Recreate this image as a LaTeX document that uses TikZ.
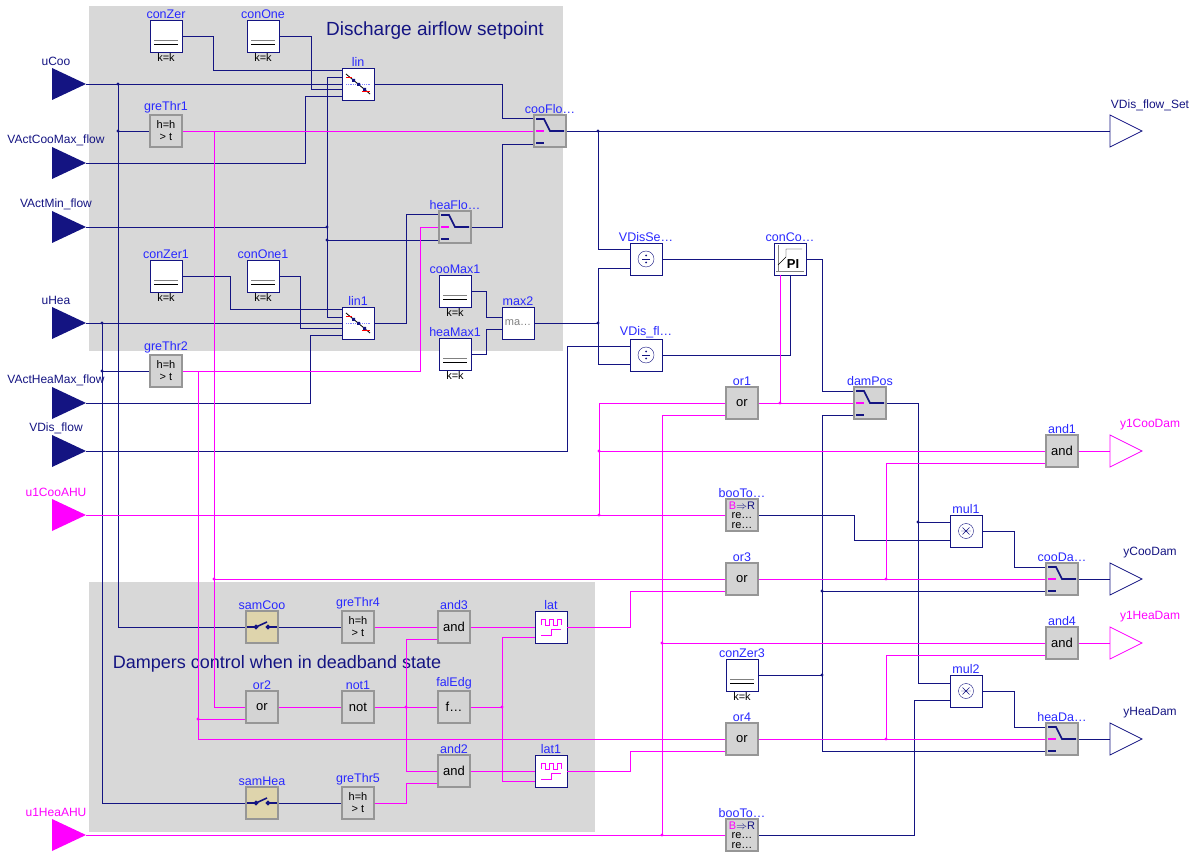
\documentclass[tikz,border=0pt]{standalone}
\usepackage{fontspec}
\setmainfont{Liberation Sans}
\usetikzlibrary{calc}
\definecolor{navyc}{RGB}{20,20,130}
\definecolor{pinkc}{RGB}{255,0,255}
\definecolor{lblc}{RGB}{40,40,255}
\definecolor{gbf}{RGB}{212,212,212}
\definecolor{gbe}{RGB}{150,150,150}
\definecolor{regc}{RGB}{216,216,216}
\definecolor{khaki}{RGB}{222,212,172}
\begin{document}
\begin{tikzpicture}[x=1pt,y=-1pt,
  lab/.style={text=lblc,font=\fontsize{12.5}{12.5}\selectfont,inner sep=0.5pt},
  base/.style={minimum width=32,minimum height=32,inner sep=0,font=\fontsize{13}{13}\selectfont,align=center},
  gb/.style={base,fill=gbf,draw=gbe,line width=1.6},
  kb/.style={base,fill=khaki,draw=gbe,line width=1.6},
  wb/.style={base,fill=white,draw=navyc,line width=0.8},
  nm/.style={label={[lab]above:#1}},
  kk/.style={label={[lab,text=black,font=\fontsize{11}{11}\selectfont]below:k=k}},
  w/.style={navyc,line width=0.8},
  p/.style={pinkc,line width=0.8},
  cicon/.style={path picture={\draw[gray] ([shift={(-12,4)}]path picture bounding box.center)--([shift={(12,4)}]path picture bounding box.center);
     \draw[black] ([shift={(-12,8)}]path picture bounding box.center)--([shift={(12,8)}]path picture bounding box.center);}},
  swicon/.style={path picture={\draw[navyc] ([shift={(-14,-12)}]path picture bounding box.center)--([shift={(-6,-12)}]path picture bounding box.center)--(path picture bounding box.center)--([shift={(14,0)}]path picture bounding box.center);
     \draw[navyc] ([shift={(-14,12)}]path picture bounding box.center)--([shift={(-6,12)}]path picture bounding box.center);
     \draw[pinkc] ([shift={(-14,0)}]path picture bounding box.center)--([shift={(-6,0)}]path picture bounding box.center);}},
  samicon/.style={path picture={\draw[navyc] ([shift={(-15,0)}]path picture bounding box.center)--([shift={(-6,0)}]path picture bounding box.center)--([shift={(5,-5)}]path picture bounding box.center);
     \draw[navyc] ([shift={(6,0)}]path picture bounding box.center)--([shift={(15,0)}]path picture bounding box.center);
     \draw[navyc] ([shift={(-6,0)}]path picture bounding box.center) circle (1.5) ([shift={(6,0)}]path picture bounding box.center) circle (1.5);}},
  linicon/.style={path picture={\draw[black] ([shift={(-12,-10)}]path picture bounding box.center)--([shift={(12,10)}]path picture bounding box.center);
     \draw[blue!50,densely dotted] ([shift={(-12,0)}]path picture bounding box.center)--([shift={(12,0)}]path picture bounding box.center);
     \draw[red] ([shift={(4,7)}]path picture bounding box.center)--([shift={(12,7)}]path picture bounding box.center);
     \draw[red] ([shift={(-12,-7)}]path picture bounding box.center)--([shift={(-6,-7)}]path picture bounding box.center);
     \fill[navyc] ([shift={(-6,-5)}]path picture bounding box.center) rectangle ++(3,3) ([shift={(-1,-1)}]path picture bounding box.center) rectangle ++(3,3) ([shift={(5,4)}]path picture bounding box.center) rectangle ++(3,3);}},
  laticon/.style={path picture={\draw[pinkc,line width=0.8] ([shift={(-10,-2)}]path picture bounding box.center)--++(0,-6)--++(4,0)--++(0,6)--++(4,0)--++(0,-6)--++(4,0)--++(0,6)--++(4,0)--++(0,-6)--++(4,0)--++(0,6);
     \draw[pinkc,line width=0.8] ([shift={(-10,8)}]path picture bounding box.center)--++(10,0)--++(0,-6)--++(10,0);}}
]
\useasboundingbox (0,0) rectangle (1194,858);
\fill[regc] (89,6) rectangle (563,351);
\fill[regc] (89,582) rectangle (595,832);
\node[text=navyc,font=\fontsize{19}{19}\selectfont] (t1) at (435,31) {Discharge airflow setpoint};
\node[text=navyc,font=\fontsize{18}{18}\selectfont] (t2) at (277,664) {Dampers control when in deadband state};

% inputs
\foreach \n/\y/\t/\c in {uCoo/84/uCoo/navyc, VActCooMax/163/VActCooMax\_flow/navyc, VActMin/227/VActMin\_flow/navyc, uHea/323/uHea/navyc, VActHeaMax/403/VActHeaMax\_flow/navyc, VDisflow/451/VDis\_flow/navyc, u1Coo/515/u1CooAHU/pinkc, u1Hea/835/u1HeaAHU/pinkc}{
  \fill[\c] (52,\y-16)--(86,\y)--(52,\y+16)--cycle;
  \coordinate (\n) at (86,\y);
  \node[text=\c,font=\fontsize{12}{12}\selectfont] (l\n) at (56,\y-23) {\t};
}
% outputs
\foreach \n/\y/\t/\c in {VDisSet/131/VDis\_flow\_Set/navyc, y1CooDamO/451/y1CooDam/pinkc, yCooDamO/579/yCooDam/navyc, y1HeaDamO/643/y1HeaDam/pinkc, yHeaDamO/739/yHeaDam/navyc}{
  \draw[\c,fill=white,line width=0.8] (1110,\y-16)--(1142,\y)--(1110,\y+16)--cycle;
  \coordinate (\n) at (1110,\y);
  \node[text=\c,font=\fontsize{12}{12}\selectfont] (l\n) at (1150,\y-26) {\t};
}

% blocks
\node[wb,cicon,nm=conZer,kk] (conZer) at (166,36) {};
\node[wb,cicon,nm=conOne,kk] (conOne) at (263,36) {};
\node[wb,cicon,nm=conZer1,kk] (conZer1) at (166,276) {};
\node[wb,cicon,nm=conOne1,kk] (conOne1) at (263,276) {};
\node[wb,cicon,nm=cooMax1,kk] (cooMax1) at (455,291) {};
\node[wb,cicon,nm=heaMax1,kk] (heaMax1) at (455,354) {};
\node[wb,cicon,nm=conZer3,kk] (conZer3) at (742,675) {};
\node[wb,linicon,nm=lin] (lin) at (358,84) {};
\node[wb,linicon,nm=lin1] (lin1) at (358,323) {};
\node[wb,nm=max2,text=gray,font=\fontsize{11}{11}\selectfont] (max2) at (518,323) {ma…};
\node[gb,nm=greThr1,font=\fontsize{11}{12}\selectfont] (greThr1) at (166,131) {h=h\\> t};
\node[gb,nm=greThr2,font=\fontsize{11}{12}\selectfont] (greThr2) at (166,371) {h=h\\> t};
\node[gb,swicon,nm=cooFlo…] (cooFlo) at (550,131) {};
\node[gb,swicon,nm=heaFlo…] (heaFlo) at (455,227) {};
\node[wb,nm=VDisSe…] (VDisSe) at (646,259) {};
\node[wb,nm=VDis\_fl…] (VDisfl) at (646,355) {};
\foreach \b in {VDisSe,VDisfl}{\draw[navyc] (\b) circle (8); \draw[navyc] ([xshift=-4]\b.center)--([xshift=4]\b.center); \fill[navyc] ([yshift=3.5]\b.center) circle (1) ([yshift=-3.5]\b.center) circle (1);}
\node[wb,nm=conCo…] (conCo) at (790,259) {};
\draw[gray] ([shift={(-12,12)}]conCo.center)--([shift={(-12,-14)}]conCo.center) ([shift={(-14,12)}]conCo.center)--([shift={(14,12)}]conCo.center);
\draw[black] ([shift={(-12,6)}]conCo.center)--([shift={(-4,-2)}]conCo.center)--([shift={(-4,-10)}]conCo.center)--([shift={(12,-10)}]conCo.center);
\node[font=\bfseries\fontsize{13}{13}\selectfont] (pi) at ([shift={(3,5)}]conCo.center) {PI};
\node[gb,nm=or1] (or1) at (742,403) {or};
\node[gb,swicon,nm=damPos] (damPos) at (870,403) {};
\node[gb,nm=and1] (and1) at (1062,451) {and};
\node[gb,nm=booTo…,font=\fontsize{11}{9.5}\selectfont] (booTo1) at (742,515) {{\color{pinkc}B}{\color{navyc}$\Rightarrow$}{\color{navyc}R}\\re…\\re…};
\node[gb,nm=booTo…,font=\fontsize{11}{9.5}\selectfont] (booTo2) at (742,835) {{\color{pinkc}B}{\color{navyc}$\Rightarrow$}{\color{navyc}R}\\re…\\re…};
\node[wb,nm=mul1] (mul1) at (966,531) {};
\node[wb,nm=mul2] (mul2) at (966,691) {};
\foreach \b in {mul1,mul2}{\draw[navyc] (\b) circle (7.5); \draw[navyc] ([shift={(-5,0)}]\b.center)--([shift={(5,0)}]\b.center) ([shift={(-3.5,-3.5)}]\b.center)--([shift={(3.5,3.5)}]\b.center) ([shift={(-3.5,3.5)}]\b.center)--([shift={(3.5,-3.5)}]\b.center);}
\node[gb,nm=or3] (or3) at (742,579) {or};
\node[gb,swicon,nm=cooDa…] (cooDa) at (1062,579) {};
\node[gb,nm=and4] (and4) at (1062,643) {and};
\node[gb,nm=or4] (or4) at (742,739) {or};
\node[gb,swicon,nm=heaDa…] (heaDa) at (1062,739) {};
\node[kb,samicon,nm=samCoo] (samCoo) at (262,627) {};
\node[gb,nm=greThr4,font=\fontsize{11}{12}\selectfont] (greThr4) at (358,627) {h=h\\> t};
\node[gb,nm=and3] (and3) at (454,627) {and};
\node[wb,laticon,nm=lat] (lat) at (551,627) {};
\node[gb,nm=or2] (or2) at (262,707) {or};
\node[gb,nm=not1] (not1) at (358,707) {not};
\node[gb,nm=falEdg] (falEdg) at (454,707) {f…};
\node[gb,nm=and2] (and2) at (454,771) {and};
\node[wb,laticon,nm=lat1] (lat1) at (551,771) {};
\node[kb,samicon,nm=samHea] (samHea) at (262,803) {};
\node[gb,nm=greThr5,font=\fontsize{11}{12}\selectfont] (greThr5) at (358,803) {h=h\\> t};

% navy wires
\draw[w] (uCoo) -- (lin.west);
\draw[w] (conZer.east) -| (213,70) -- ([yshift=14]lin.west);
\draw[w] (conOne.east) -| (311,89) -- ([yshift=-5]lin.west);
\draw[w] (VActCooMax) -| (305,96) -- ([yshift=-12]lin.west);
\draw[w] ([yshift=7]lin.west) -| (327,317) -- ([yshift=6]lin1.west);
\draw[w] (VActMin) -- (327,227);
\draw[w] (327,240) -- ([yshift=-13]heaFlo.west);
\draw[w] (lin.east) -| (502,118) -- ([yshift=13]cooFlo.west);
\draw[w] (heaFlo.east) -| (502,144) -- ([yshift=-13]cooFlo.west);
\draw[w] (lin1.east) -| (406,214) -- ([yshift=13]heaFlo.west);
\draw[w] (conZer1.east) -| (230,309) -- ([yshift=14]lin1.west);
\draw[w] (conOne1.east) -| (300,328) -- ([yshift=-5]lin1.west);
\draw[w] (uHea) -- (lin1.west);
\draw[w] (VActHeaMax) -| (310,335) -- ([yshift=-12]lin1.west);
\draw[w] (118,84) |- (samCoo.west);
\draw[w] (118,131) -- (greThr1.west);
\draw[w] (102,323) |- (samHea.west);
\draw[w] (102,371) -- (greThr2.west);
\draw[w] (cooMax1.east) -| (486,317) -- ([yshift=6]max2.west);
\draw[w] (heaMax1.east) -| (486,329) -- ([yshift=-6]max2.west);
\draw[w] (cooFlo.east) -- (VDisSet);
\draw[w] (598,131) |- ([yshift=10]VDisSe.west);
\draw[w] (max2.east) -- (598,323);
\draw[w] ([yshift=-9]VDisSe.west) -| (598,364) -- ([yshift=-9]VDisfl.west);
\draw[w] (VDisflow) -| (567,346) -- ([yshift=9]VDisfl.west);
\draw[w] (VDisSe.east) -- (conCo.west);
\draw[w] (VDisfl.east) -| (conCo.south);
\draw[w] (conCo.east) -| (822,391) -- ([yshift=12]damPos.west);
\draw[w] (conZer3.east) -- (822,675);
\draw[w] ([yshift=-12]damPos.west) -| (822,751) -- ([yshift=-12]heaDa.west);
\draw[w] (822,591) -- ([yshift=-12]cooDa.west);
\draw[w] (damPos.east) -| (918,683) -- ([yshift=8]mul2.west);
\draw[w] (918,522) -- ([yshift=9]mul1.west);
\draw[w] (booTo1.east) -| (854,540) -- ([yshift=-9]mul1.west);
\draw[w] (booTo2.east) -| (914,700) -- ([yshift=-9]mul2.west);
\draw[w] (mul1.east) -| (1014,567) -- ([yshift=12]cooDa.west);
\draw[w] (mul2.east) -| (1014,727) -- ([yshift=12]heaDa.west);
\draw[w] (cooDa.east) -- (yCooDamO);
\draw[w] (heaDa.east) -- (yHeaDamO);
\draw[w] (samCoo.east) -- (greThr4.west);
\draw[w] (samHea.east) -- (greThr5.west);
\foreach \q in {(118,84),(118,131),(102,323),(102,371),(327,227),(327,240),(598,131),(598,323),(822,591),(822,675),(918,522)} \fill[navyc] \q circle (1.6);

% pink wires
\draw[p] (greThr1.east) -- (cooFlo.west);
\draw[p] (214,131) |- (or2.west);
\draw[p] (214,579) -- (or3.west);
\draw[p] (greThr2.east) -| (420,227) -- (heaFlo.west);
\draw[p] (198,371) |- (or4.west);
\draw[p] (198,719) -- ([yshift=-12]or2.west);
\draw[p] (u1Coo) -- (booTo1.west);
\draw[p] (599,515) |- (or1.west);
\draw[p] (599,451) -- (and1.west);
\draw[p] (u1Hea) -- (booTo2.west);
\draw[p] (662,835) |- ([yshift=-12]or1.west);
\draw[p] (662,643) -- (and4.west);
\draw[p] (or1.east) -- (damPos.west);
\draw[p] (780,403) -- ([xshift=-10]conCo.south);
\draw[p] (or3.east) -- (cooDa.west);
\draw[p] (886,579) |- ([yshift=-12]and1.west);
\draw[p] (or4.east) -- (heaDa.west);
\draw[p] (886,739) |- ([yshift=-12]and4.west);
\draw[p] (and1.east) -- (y1CooDamO);
\draw[p] (and4.east) -- (y1HeaDamO);
\draw[p] (lat.east) -| (630,591) -- ([yshift=-12]or3.west);
\draw[p] (lat1.east) -| (630,751) -- ([yshift=-12]or4.west);
\draw[p] (greThr4.east) -- (and3.west);
\draw[p] (and3.east) -- (lat.west);
\draw[p] (and2.east) -- (lat1.west);
\draw[p] (or2.east) -- (not1.west);
\draw[p] (not1.east) -- (falEdg.west);
\draw[p] ([yshift=-12]and3.west) -| (406,771) -- (and2.west);
\draw[p] (greThr5.east) -| (406,783) -- ([yshift=-12]and2.west);
\draw[p] (falEdg.east) -- (502,707);
\draw[p] ([yshift=-10]lat.west) -| (502,781) -- ([yshift=-10]lat1.west);
\foreach \q in {(214,579),(198,719),(599,515),(599,451),(662,835),(662,643),(780,403),(886,579),(886,739),(406,707),(502,707)} \fill[pinkc] \q circle (1.6);
\end{tikzpicture}
\end{document}
